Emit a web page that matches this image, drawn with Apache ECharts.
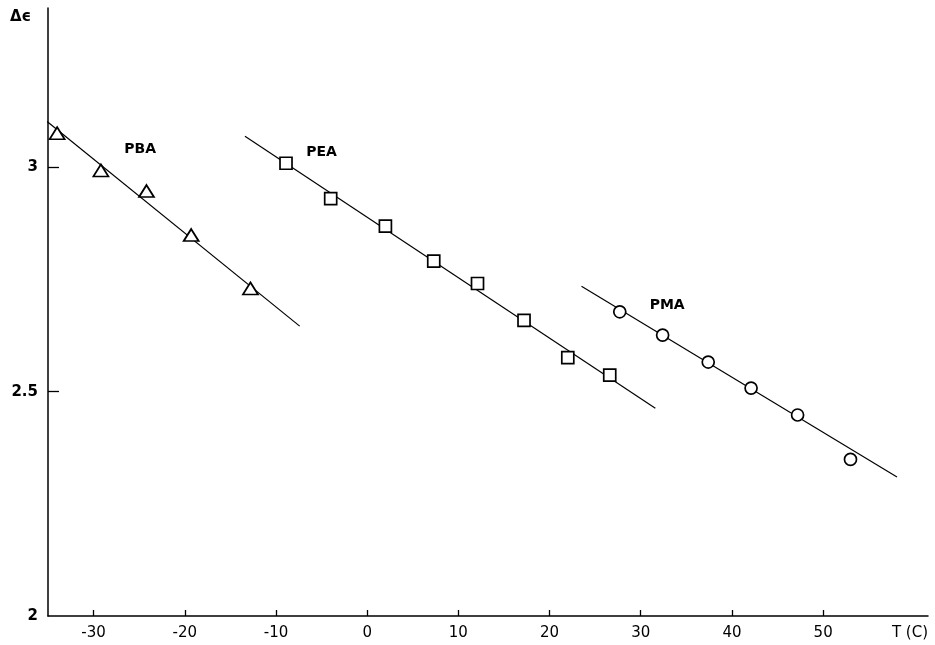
<!DOCTYPE html>
<html>
<head>
<meta charset="utf-8">
<script src="https://cdn.jsdelivr.net/npm/echarts@6/dist/echarts.min.js"></script>
<style>html,body{margin:0;padding:0;background:#fff}#c{width:935px;height:645px}</style>
</head>
<body>
<div id="c"></div>
<script>
// Data
const xTicks = [-30, -20, -10, 0, 10, 20, 30, 40, 50];
const yTicks = [2, 2.5, 3];
const pbaPoints = [[-34.0, 3.076], [-29.2, 2.993], [-24.2, 2.947], [-19.3, 2.849], [-12.8, 2.730]];
const peaPoints = [[-8.9, 3.009], [-4.0, 2.930], [2.0, 2.869], [7.3, 2.791], [12.1, 2.741], [17.2, 2.659], [22.0, 2.576], [26.6, 2.537]];
const pmaPoints = [[27.7, 2.678], [32.4, 2.626], [37.4, 2.566], [42.1, 2.508], [47.2, 2.448], [53.0, 2.349]];
const pbaLine = [[-35.1, 3.102], [-7.4, 2.646]];
const peaLine = [[-13.4, 3.069], [31.6, 2.463]];
const pmaLine = [[23.5, 2.735], [58.1, 2.310]];
const seriesNames = ['PBA', 'PEA', 'PMA'];
const labelPos = [[-24.9, 3.040], [-5.0, 3.033], [32.9, 2.693]];

const chart = echarts.init(document.getElementById('c'), null, {renderer: 'canvas'});
const ink = '#000';
const lineSeries = (d) => ({
  type: 'line', data: d, showSymbol: false, symbol: 'none', silent: true,
  lineStyle: {color: ink, width: 1.2}, z: 2
});
const markSeries = (d, sym, size) => ({
  type: 'scatter', data: d, symbol: sym, symbolSize: size, silent: true,
  itemStyle: {color: '#fff', borderColor: ink, borderWidth: 1.7, opacity: 1}, z: 3
});
chart.setOption({
  animation: false,
  backgroundColor: '#fff',
  grid: {left: 48, right: 7, top: 8, bottom: 29, containLabel: false, outerBoundsMode: 'none'},
  xAxis: {
    type: 'value', min: -35, max: 61.5,
    axisLine: {show: true, onZero: false, lineStyle: {color: ink, width: 1.5}},
    axisTick: {show: true, inside: true, length: 6, lineStyle: {color: ink, width: 1.3}, customValues: xTicks},
    axisLabel: {customValues: xTicks, color: ink, fontFamily: 'DejaVu Sans', fontSize: 15, margin: 10,
      formatter: v => (v < 0 ? '-' + Math.abs(v) : String(v))},
    splitLine: {show: false}
  },
  yAxis: {
    type: 'value', min: 2, max: 3.355,
    axisLine: {show: true, onZero: false, lineStyle: {color: ink, width: 1.5}},
    axisTick: {show: true, inside: true, length: 11, lineStyle: {color: ink, width: 1.3}, customValues: [2.5, 3]},
    axisLabel: {customValues: yTicks, color: ink, fontFamily: 'DejaVu Sans', fontWeight: 'bold', fontSize: 15, margin: 10,
      formatter: v => String(v)},
    splitLine: {show: false}
  },
  graphic: [
    {type: 'text', left: 10, top: 10, style: {text: 'Δϵ', font: 'bold 15px "DejaVu Sans"', fill: ink}},
    {type: 'text', right: 7, top: 626, style: {text: 'T (C)', font: '15px "DejaVu Sans"', fill: ink}}
  ],
  series: [
    lineSeries(pbaLine), lineSeries(peaLine), lineSeries(pmaLine),
    markSeries(pbaPoints, 'triangle', [15, 12]),
    markSeries(peaPoints, 'rect', 12),
    markSeries(pmaPoints, 'circle', 12),
    {
      type: 'scatter', symbol: 'circle', symbolSize: 2, silent: true, z: 4,
      itemStyle: {color: 'rgba(255,255,255,0)'},
      data: labelPos.map((p, i) => ({value: p, name: seriesNames[i]})),
      label: {show: true, position: 'inside', formatter: p => p.name, color: '#000', opacity: 1,
        fontFamily: 'DejaVu Sans', fontWeight: 'bold', fontSize: 14}
    }
  ]
});
</script>
</body>
</html>
